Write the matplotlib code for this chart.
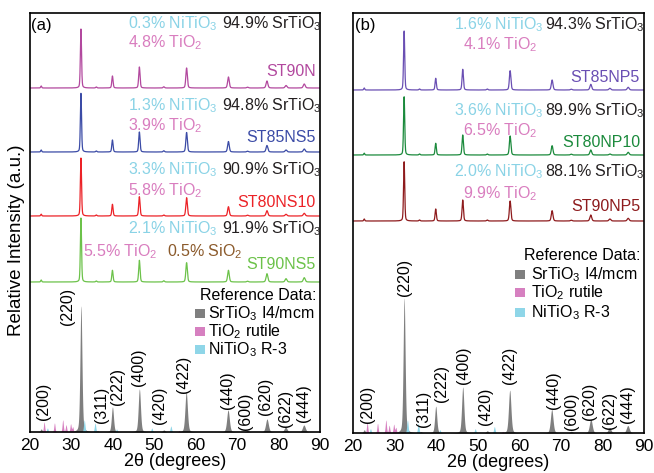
import numpy as np
import matplotlib
matplotlib.use("Agg")
from matplotlib import pyplot as plt
from matplotlib.patches import Rectangle

plt.rcParams['font.family'] = ['Liberation Sans', 'DejaVu Sans']
plt.rcParams['mathtext.fontset'] = 'custom'
plt.rcParams['mathtext.rm'] = 'Liberation Sans'
plt.rcParams['mathtext.default'] = 'regular'

W, H = 654, 473

# --- data -----------------------------------------------------------------
# SrTiO3 reflections seen in the measured patterns (2theta, deg)
peak_pos = [22.7, 32.3, 36.0, 39.9, 46.4, 52.3, 57.8, 67.9, 72.5, 77.2, 81.8, 86.2]

# measured patterns, peak heights (a.u.)
st90n    = [2.0, 59, 1.0, 12, 21, 1.2, 20, 11, 0.8, 7.0, 2.5, 4.0]
st85ns5  = [2.0, 58.7, 1.0, 12, 20, 1.2, 19.5, 10.5, 0.8, 6.5, 2.0, 3.0]
st80ns10 = [1.8, 58, 1.0, 11.7, 19.3, 1.0, 18.3, 9.3, 0.8, 5.3, 1.7, 2.7]
st90ns5  = [2.0, 64, 1.0, 11.7, 21.7, 1.2, 19.3, 11.7, 0.8, 8.3, 3.3, 4.3]
st85np5  = [2.0, 59, 1.0, 11.7, 20.7, 1.0, 19.3, 10, 0.8, 5.7, 1.7, 2.7]
st80np10 = [1.8, 58.3, 1.0, 11.7, 20, 1.0, 19, 9.3, 0.8, 5.0, 1.0, 2.7]
st90np5  = [2.0, 59.3, 1.0, 12, 21, 1.0, 20, 10.3, 0.8, 6.0, 2.0, 2.7]

# reference cards
ref_sto_pos = [22.7, 32.3, 36.3, 39.9, 46.4, 52.3, 57.7, 67.8, 72.5, 77.2, 81.7, 86.1]
ref_sto_int = [3, 126, 1, 25, 43, 2, 40, 22, 1.5, 13, 5, 7]
hkl = ['(200)', '(220)', '(311)', '(222)', '(400)', '(420)', '(422)',
       '(440)', '(600)', '(620)', '(622)', '(444)']
ref_tio2_pos = [23.4, 25.9, 27.9, 28.7, 29.8, 30.3, 56.0]
ref_tio2_int = [10, 9, 12, 7, 8, 5, 1.5]
ref_nto_pos = [24.2, 33.1, 35.7, 40.9, 49.4, 54.0]
ref_nto_int = [4, 12, 9, 3, 4, 6]

names_a = ['ST90N', 'ST85NS5', 'ST80NS10', 'ST90NS5']
names_b = ['ST85NP5', 'ST80NP10', 'ST90NP5']
nto_pct_a = ['0.3', '1.3', '3.3', '2.1']
tio2_pct_a = ['4.8', '3.9', '5.8', '5.5']
sto_pct_a = ['94.9', '94.8', '90.9', '91.9']
nto_pct_b = ['1.6', '3.6', '2.0']
tio2_pct_b = ['4.1', '6.5', '9.9']
sto_pct_b = ['94.3', '89.9', '88.1']
sio2_pct = '0.5'

# --- styles / layout ------------------------------------------------------
col_a = ['#b2489e', '#3b4ba6', '#ec2227', '#6cc24a']
col_b = ['#6a4fb3', '#1b8a3c', '#8e1b1d']
c_sto, c_tio2, c_nto = '#7f7f7f', '#d680c0', '#8fd6e8'
c_txt_nto, c_txt_tio2, c_txt_sio2 = '#8ad3e6', '#d97dbf', '#8b5a2b'
FS = 11.5

x = np.linspace(20, 90, 5000)


def pattern(pos, hts, base=0.2, slope=0.004):
    y = np.zeros_like(x)
    for p, h in zip(pos, hts):
        f = base + slope * p
        g = np.exp(-4 * np.log(2) * ((x - p) / f) ** 2)
        lor = 1 / (1 + 4 * ((x - p) / f) ** 2)
        y += h * (0.7 * g + 0.3 * lor)
    return y


fig = plt.figure(figsize=(W / 100, H / 100), dpi=100)


def ftext(xp, yp, s, **kw):
    kw.setdefault('fontsize', FS)
    fig.text(xp / W, 1 - yp / H, s, **kw)


def make_ax(left, right, top, bottom):
    ax = fig.add_axes([left / W, 1 - bottom / H, (right - left) / W, (bottom - top) / H])
    ax.set_xlim(20, 90)
    ax.set_ylim(0, bottom - top)
    ax.set_yticks([])
    ax.set_xticks(range(20, 91, 10))
    ax.tick_params(axis='x', length=0, pad=4, labelsize=12.5)
    for s in ax.spines.values():
        s.set_linewidth(1.2)
    ax.set_xlabel('2θ (degrees)', fontsize=13, labelpad=0)
    return ax


def draw_refs(ax, scale):
    ax.fill_between(x, 0, pattern(ref_sto_pos, np.array(ref_sto_int) * scale, 0.4, 0.005),
                    color=c_sto, lw=0)
    ax.fill_between(x, 0, pattern(ref_tio2_pos, np.array(ref_tio2_int) * scale, 0.35, 0.0),
                    color=c_tio2, lw=0)
    ax.fill_between(x, 0, pattern(ref_nto_pos, np.array(ref_nto_int) * scale, 0.4, 0.0),
                    color=c_nto, lw=0)


# ---------------- panel (a)
ax_a = make_ax(30, 320, 13, 432)
bases_a = [344, 280, 216, 150]
for data, b, c in zip([st90n, st85ns5, st80ns10, st90ns5], bases_a, col_a):
    ax_a.plot(x, b + pattern(peak_pos, data), color=c, lw=0.9)
draw_refs(ax_a, 1.0)

# ---------------- panel (b)
ax_b = make_ax(353, 644, 13, 433)
bases_b = [343, 278, 212]
for data, b, c in zip([st85np5, st80np10, st90np5], bases_b, col_b):
    ax_b.plot(x, b + pattern(peak_pos, data), color=c, lw=0.9)
draw_refs(ax_b, 1.07)

ftext(17, 240, 'Relative Intensity (a.u.)', fontsize=13.5, rotation=90,
      ha='center', va='center')
ftext(31, 30, '(a)', fontsize=12, va='baseline')
ftext(355, 30, '(b)', fontsize=12, va='baseline')

# phase fractions, panel (a)
rows_a = [(28.5, 47.7, 76), (110, 130, 141.7), (174.3, 195, 207), (233, 256, 269)]
for i, (y1, y2, y3) in enumerate(rows_a):
    ftext(128, y1, nto_pct_a[i] + '% NiTiO$_3$', color=c_txt_nto, va='baseline')
    ftext(222, y1, sto_pct_a[i] + '% SrTiO$_3$', color='#231f20', va='baseline')
    tx = 83 if i == 3 else 128
    ftext(tx, y2, tio2_pct_a[i] + '% TiO$_2$', color=c_txt_tio2, va='baseline')
    ftext(316, y3, names_a[i], color=col_a[i], ha='right', va='baseline')
ftext(167, 256, sio2_pct + '% SiO$_2$', color=c_txt_sio2, va='baseline')

# phase fractions, panel (b)
rows_b = [(29, 49, 81.7), (115, 135, 146.7), (176.7, 198, 210.7)]
for i, (y1, y2, y3) in enumerate(rows_b):
    ftext(454, y1, nto_pct_b[i] + '% NiTiO$_3$', color=c_txt_nto, va='baseline')
    ftext(545, y1, sto_pct_b[i] + '% SrTiO$_3$', color='#231f20', va='baseline')
    ftext(463, y2, tio2_pct_b[i] + '% TiO$_2$', color=c_txt_tio2, va='baseline')
    ftext(640, y3, names_b[i], color=col_b[i], ha='right', va='baseline')

# reference legends
leg_lab = ['SrTiO$_3$ I4/mcm', 'TiO$_2$ rutile', 'NiTiO$_3$ R-3']
leg_col = [c_sto, c_tio2, c_nto]
for (xr, xs, xt, yh, ys) in [(316, 195, 208, 300, [318, 336, 354]),
                             (640, 515, 531, 260, [279, 297, 317])]:
    ftext(xr, yh, 'Reference Data:', ha='right', va='baseline')
    for lab, c, yb in zip(leg_lab, leg_col, ys):
        fig.patches.append(Rectangle((xs / W, 1 - yb / H), 10 / W, 9 / H,
                                     transform=fig.transFigure, color=c, lw=0))
        ftext(xt, yb, lab, va='baseline')

# Miller indices
hkl_a = [(43, 401), (68, 306), (101, 405), (117.5, 386), (138.5, 367), (160, 405),
         (184, 374), (228, 390.5), (246, 411), (266, 396.5), (285, 408.5), (303, 403.5)]
hkl_b = [(368, 404.5), (405, 277.5), (424, 409), (442, 383), (463, 365), (485, 406),
         (509, 365), (553, 390.5), (571, 411.5), (590, 401.5), (609, 410), (628, 404)]
for lab, pa, pb in zip(hkl, hkl_a, hkl_b):
    for (xp, yp) in (pa, pb):
        ftext(xp, yp, lab, rotation=90, ha='center', va='center')

fig.savefig('out.png', dpi=100)
